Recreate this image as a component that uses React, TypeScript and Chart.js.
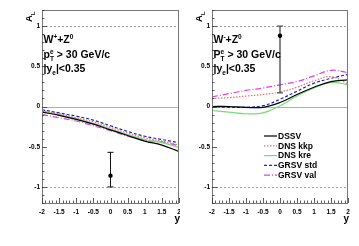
import React, { useEffect, useRef } from "react";
import { Chart, registerables } from "chart.js";
Chart.register(...registerables);

// ---------- data ----------
const rapidity = [-2, -1.5, -1, -0.5, 0, 0.5, 1, 1.5, 2];
const xTickLabels = ["-2", "-1.5", "-1", "-0.5", "0", "0.5", "1", "1.5", "2"];
const yTickValues = [-1, -0.5, 0, 0.5, 1];
const yTickLabels = ["-1", "-0.5", "0", "0.5", "1"];
const seriesNames = ["DSSV", "DNS kkp", "DNS kre", "GRSV std", "GRSV val"];

// W+ + Z0 panel
const wPlusDSSV = [-0.07, -0.11, -0.16, -0.22, -0.29, -0.36, -0.43, -0.48, -0.56];
const wPlusDNSkkp = [-0.05, -0.09, -0.14, -0.19, -0.26, -0.33, -0.39, -0.43, -0.48];
const wPlusDNSkre = [-0.06, -0.10, -0.15, -0.21, -0.28, -0.35, -0.41, -0.45, -0.51];
const wPlusGRSVstd = [-0.04, -0.08, -0.12, -0.17, -0.24, -0.31, -0.37, -0.41, -0.45];
const wPlusGRSVval = [-0.10, -0.14, -0.18, -0.24, -0.30, -0.37, -0.42, -0.44, -0.49];
const wPlusPointX = [0];
const wPlusPointY = [-0.86];
const wPlusErrHigh = [-0.57];
const wPlusErrLow = [-1.0];

// W- + Z0 panel
const wMinusDSSV = [0.0, 0.0, -0.01, -0.01, 0.05, 0.15, 0.24, 0.31, 0.33];
const wMinusDNSkkp = [0.10, 0.11, 0.13, 0.15, 0.18, 0.24, 0.32, 0.37, 0.28];
const wMinusDNSkre = [-0.05, -0.07, -0.09, -0.08, 0.01, 0.13, 0.23, 0.30, 0.27];
const wMinusGRSVstd = [0.0, -0.01, -0.01, 0.01, 0.09, 0.19, 0.29, 0.35, 0.40];
const wMinusGRSVval = [0.12, 0.16, 0.20, 0.23, 0.27, 0.31, 0.38, 0.45, 0.42];
const wMinusPointX = [0];
const wMinusPointY = [0.88];
const wMinusErrHigh = [1.0];
const wMinusErrLow = [0.17];

// ---------- styles ----------
const seriesColors = ["#000000", "#e2706e", "#70e070", "#2020cc", "#e040e0"];
const seriesDashes: number[][] = [[], [1.5, 1.5], [], [3, 2], [6, 2, 1, 2]];
const FONT = '"Liberation Sans", Arial, Helvetica, sans-serif';

type Part = { t?: string; k?: "sub" | "sup" | "subsup"; sub?: string; sup?: string };

function drawRich(ctx: CanvasRenderingContext2D, x: number, y: number, parts: Part[], size: number) {
  let cx = x;
  for (const p of parts) {
    if (p.k === "subsup") {
      const s = size * 0.62;
      ctx.font = `bold ${s}px ${FONT}`;
      ctx.fillText(p.sub || "", cx, y + size * 0.3);
      ctx.fillText(p.sup || "", cx, y - size * 0.42);
      cx += Math.max(ctx.measureText(p.sub || "").width, ctx.measureText(p.sup || "").width);
      continue;
    }
    const s = p.k ? size * 0.62 : size;
    ctx.font = `bold ${s}px ${FONT}`;
    const dy = p.k === "sub" ? size * 0.3 : p.k === "sup" ? -size * 0.42 : 0;
    ctx.fillText(p.t || "", cx, y + dy);
    cx += ctx.measureText(p.t || "").width;
  }
}

const decorPlugin = {
  id: "decor",
  beforeDatasetsDraw(chart: any) {
    const { ctx, chartArea: a } = chart;
    const ys = chart.scales.y;
    ctx.save();
    ctx.lineWidth = 0.8;
    ctx.strokeStyle = "#8a8a8a";
    ctx.setLineDash([2, 2]);
    for (const v of [1, -1]) {
      const py = Math.round(ys.getPixelForValue(v)) + 0.5;
      ctx.beginPath();
      ctx.moveTo(a.left, py);
      ctx.lineTo(a.right, py);
      ctx.stroke();
    }
    ctx.setLineDash([]);
    ctx.strokeStyle = "#9a9a9a";
    const p0 = Math.round(ys.getPixelForValue(0)) + 0.5;
    ctx.beginPath();
    ctx.moveTo(a.left, p0);
    ctx.lineTo(a.right, p0);
    ctx.stroke();
    ctx.restore();
  },
  afterDatasetsDraw(chart: any, _args: any, opts: any) {
    const { ctx, chartArea: a } = chart;
    const xs = chart.scales.x;
    const ys = chart.scales.y;
    ctx.save();
    // frame
    ctx.strokeStyle = "#777";
    ctx.lineWidth = 1;
    ctx.strokeRect(Math.round(a.left) + 0.5, Math.round(a.top) + 0.5, Math.round(a.right - a.left) - 1, Math.round(a.bottom - a.top));
    // ticks
    ctx.strokeStyle = "#333";
    ctx.lineWidth = 0.8;
    for (let i = -20; i <= 20; i++) {
      const v = i / 10;
      const px = Math.round(xs.getPixelForValue(v)) + 0.5;
      const len = i % 5 === 0 ? 5 : 2.5;
      ctx.beginPath();
      ctx.moveTo(px, a.bottom);
      ctx.lineTo(px, a.bottom - len);
      ctx.stroke();
    }
    for (let i = -12; i <= 12; i++) {
      const v = i / 10;
      const py = Math.round(ys.getPixelForValue(v)) + 0.5;
      const len = i % 5 === 0 ? 5 : 2.5;
      ctx.beginPath();
      ctx.moveTo(a.left, py);
      ctx.lineTo(a.left + len, py);
      ctx.stroke();
    }
    // error bar
    const ex = opts.pointX as number[];
    for (let i = 0; i < ex.length; i++) {
      const px = xs.getPixelForValue(ex[i]);
      const hi = ys.getPixelForValue(opts.errHigh[i]);
      const lo = ys.getPixelForValue(opts.errLow[i]);
      ctx.strokeStyle = opts.errColor;
      ctx.lineWidth = opts.errWidth;
      ctx.beginPath();
      ctx.moveTo(px, hi);
      ctx.lineTo(px, lo);
      ctx.moveTo(px - 3, hi);
      ctx.lineTo(px + 3, hi);
      ctx.moveTo(px - 3, lo);
      ctx.lineTo(px + 3, lo);
      ctx.stroke();
      ctx.fillStyle = "#000";
      ctx.beginPath();
      ctx.arc(px, ys.getPixelForValue(opts.pointY[i]), 2.2, 0, Math.PI * 2);
      ctx.fill();
    }
    // annotations
    ctx.fillStyle = "#000";
    ctx.textAlign = "left";
    ctx.textBaseline = "alphabetic";
    const tx = a.left + 1.5;
    drawRich(ctx, tx, 43, opts.line1, 10.5);
    drawRich(ctx, tx, 58, opts.line2, 10.5);
    drawRich(ctx, tx, 72, opts.line3, 10.5);
    // y-axis title A_L
    ctx.save();
    ctx.translate(a.left - 10, 22);
    ctx.rotate(-Math.PI / 2);
    drawRich(ctx, 0, 0, [{ t: "A" }, { t: "L", k: "sub" }], 9.5);
    ctx.restore();
    // x-axis title
    ctx.font = `bold 10px ${FONT}`;
    ctx.textAlign = "right";
    ctx.fillText("y", a.right + 1, 222);
    // legend
    if (opts.legend) {
      const ds = chart.data.datasets;
      const lx = a.left + 52;
      let ly = 136;
      ctx.textAlign = "left";
      ctx.textBaseline = "middle";
      for (let i = 0; i < seriesNames.length; i++) {
        const d = ds[i];
        ctx.strokeStyle = d.borderColor;
        ctx.lineWidth = 1.2;
        ctx.setLineDash(d.borderDash || []);
        ctx.beginPath();
        ctx.moveTo(lx, ly);
        ctx.lineTo(lx + 13, ly);
        ctx.stroke();
        ctx.setLineDash([]);
        ctx.fillStyle = "#000";
        ctx.font = `bold 8.5px ${FONT}`;
        ctx.fillText(d.label, lx + 14, ly + 0.5);
        ly += 9.8;
      }
    }
    ctx.restore();
  },
};

type PanelProps = {
  left: number;
  width: number;
  yAxisWidth: number;
  padRight: number;
  series: number[][];
  pointX: number[];
  pointY: number[];
  errHigh: number[];
  errLow: number[];
  errColor: string;
  errWidth: number;
  line1: Part[];
  line2: Part[];
  line3: Part[];
  legend: boolean;
};

function Panel(p: PanelProps) {
  const ref = useRef<HTMLCanvasElement>(null);
  useEffect(() => {
    if (!ref.current) return;
    const datasets: any[] = p.series.map((arr, i) => ({
      label: seriesNames[i],
      data: rapidity.map((x, j) => ({ x, y: arr[j] })),
      borderColor: seriesColors[i],
      borderDash: seriesDashes[i],
      borderWidth: 1.2,
      pointRadius: 0,
      tension: 0.4,
      fill: false,
    }));
    const chart = new Chart(ref.current, {
      type: "line",
      data: { datasets },
      plugins: [decorPlugin as any],
      options: {
        animation: false,
        responsive: false,
        events: [],
        layout: { padding: { top: 10, right: p.padRight, left: 0, bottom: 0 } },
        plugins: {
          legend: { display: false },
          tooltip: { enabled: false },
          decor: {
            pointX: p.pointX,
            pointY: p.pointY,
            errHigh: p.errHigh,
            errLow: p.errLow,
            errColor: p.errColor,
            errWidth: p.errWidth,
            line1: p.line1,
            line2: p.line2,
            line3: p.line3,
            legend: p.legend,
          },
        } as any,
        scales: {
          x: {
            type: "linear",
            min: -2,
            max: 2,
            grid: { display: false, drawTicks: false },
            border: { display: false },
            afterBuildTicks: (s: any) => {
              s.ticks = rapidity.map((v) => ({ value: v }));
            },
            afterFit: (s: any) => {
              s.height = 43;
              s.paddingLeft = 0;
              s.paddingRight = 0;
            },
            ticks: {
              autoSkip: false,
              maxRotation: 0,
              padding: 5,
              color: "#000",
              font: { family: FONT, size: 6.5, weight: "bold" },
              callback: (_v: any, i: number) => xTickLabels[i],
            },
          },
          y: {
            type: "linear",
            min: -1.2,
            max: 1.2,
            grid: { display: false, drawTicks: false },
            border: { display: false },
            afterBuildTicks: (s: any) => {
              s.ticks = yTickValues.map((v) => ({ value: v }));
            },
            afterFit: (s: any) => {
              s.width = p.yAxisWidth;
              s.paddingTop = 0;
              s.paddingBottom = 0;
            },
            ticks: {
              padding: 2,
              color: "#000",
              font: { family: FONT, size: 6.5, weight: "bold" },
              callback: (_v: any, i: number) => yTickLabels[i],
            },
          },
        },
      } as any,
    });
    return () => chart.destroy();
  }, []);
  return (
    <canvas
      ref={ref}
      width={p.width}
      height={246}
      style={{ position: "absolute", left: p.left, top: 0, width: p.width, height: 246 }}
    />
  );
}

export default function App() {
  return (
    <div style={{ position: "absolute", left: 0, top: 0, width: 359, height: 246, background: "#fff" }}>
      <Panel
        left={0}
        width={180}
        yAxisWidth={42}
        padRight={1}
        series={[wPlusDSSV, wPlusDNSkkp, wPlusDNSkre, wPlusGRSVstd, wPlusGRSVval]}
        pointX={wPlusPointX}
        pointY={wPlusPointY}
        errHigh={wPlusErrHigh}
        errLow={wPlusErrLow}
        errColor="#111"
        errWidth={1}
        line1={[{ t: "W" }, { t: "+", k: "sup" }, { t: "+Z" }, { t: "0", k: "sup" }]}
        line2={[{ t: "p" }, { k: "subsup", sub: "T", sup: "e" }, { t: " > 30 GeV/c" }]}
        line3={[{ t: "|y" }, { t: "e", k: "sub" }, { t: "|<0.35" }]}
        legend={false}
      />
      <Panel
        left={180}
        width={179}
        yAxisWidth={32}
        padRight={11}
        series={[wMinusDSSV, wMinusDNSkkp, wMinusDNSkre, wMinusGRSVstd, wMinusGRSVval]}
        pointX={wMinusPointX}
        pointY={wMinusPointY}
        errHigh={wMinusErrHigh}
        errLow={wMinusErrLow}
        errColor="#555"
        errWidth={1.4}
        line1={[{ t: "W" }, { t: "-", k: "sup" }, { t: "+Z" }, { t: "0", k: "sup" }]}
        line2={[{ t: "P" }, { k: "subsup", sub: "T", sup: "e" }, { t: " > 30 GeV/c" }]}
        line3={[{ t: "|y" }, { t: "e", k: "sub" }, { t: "|<0.35" }]}
        legend={true}
      />
    </div>
  );
}
